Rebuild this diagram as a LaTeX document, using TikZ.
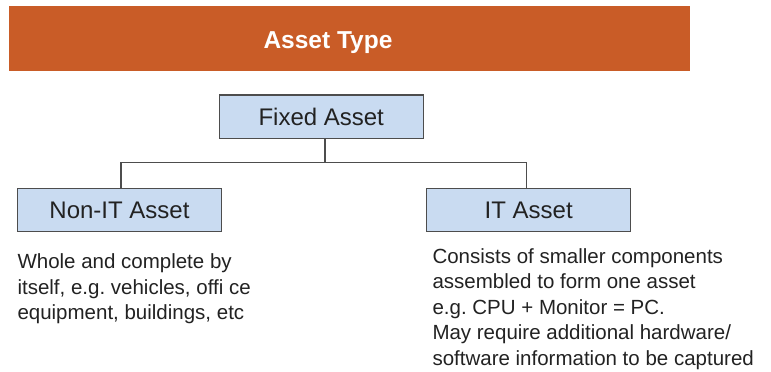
\documentclass[tikz,border=0pt]{standalone}
\usepackage{fontspec}
\setmainfont{Liberation Sans}
\frenchspacing
\definecolor{banner}{HTML}{C95C27}
\definecolor{boxfill}{HTML}{C9DBF1}
\definecolor{boxline}{HTML}{4D4D4D}
\definecolor{txt}{HTML}{222222}
\begin{document}
\begin{tikzpicture}[x=1pt,y=-1pt,
  assetbox/.style={draw=boxline, line width=1.2pt, fill=boxfill, minimum width=204pt,
    minimum height=43.3pt, inner sep=0pt, text=txt, font=\fontsize{24}{28}\selectfont},
  conn/.style={draw=boxline, line width=1.2pt},
  desc/.style={anchor=base west, align=left, inner sep=0pt, text=txt,
    font=\fontsize{20.5}{25.5}\selectfont}]
\useasboundingbox (0,0) rectangle (771,372);
\fill[banner] (9,6) rectangle (690,71);
\node[anchor=base, text=white, font=\bfseries\fontsize{24.5}{28}\selectfont, inner sep=0pt] (title) at (328,48.7) {Asset Type};
\node[assetbox] (fixed) at (321.2,116.7) {Fixed Asset};
\node[assetbox] (nonit) at (119.5,210) {Non-IT Asset};
\node[assetbox] (itasset) at (528.7,210) {IT Asset};
\coordinate (bar) at (325,162.7);
\draw[conn] ([xshift=3.8pt]fixed.south) -- (bar);
\draw[conn] ([xshift=1.5pt]nonit.north) |- (bar) -| ([xshift=-2pt]itasset.north);
% base anchor of a multi-line node lies on its last line
\node[desc] (d1) at (17.3,319.5) {Whole and complete by\\itself, e.g. vehicles, offi ce\\equipment, buildings, etc};
\node[desc] (d2) at (432.3,365) {Consists of smaller components\\assembled to form one asset\\e.g. CPU + Monitor = PC.\\May require additional hardware/\\software information to be captured};
\end{tikzpicture}
\end{document}
